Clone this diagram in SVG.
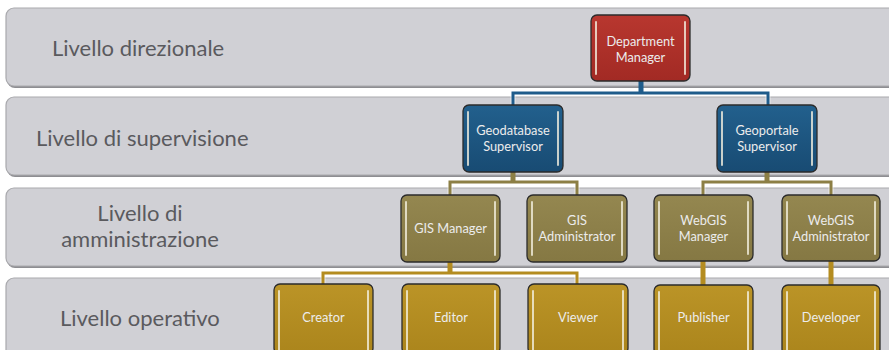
<svg xmlns="http://www.w3.org/2000/svg" width="889" height="350" viewBox="0 0 889 350">
  <defs>
    <linearGradient id="gRed" x1="0" y1="0" x2="0" y2="1">
      <stop offset="0" stop-color="#b8372f"/>
      <stop offset="1" stop-color="#a22a24"/>
    </linearGradient>
    <linearGradient id="gBlue" x1="0" y1="0" x2="0" y2="1">
      <stop offset="0" stop-color="#22608d"/>
      <stop offset="1" stop-color="#184b73"/>
    </linearGradient>
    <linearGradient id="gOlive" x1="0" y1="0" x2="0" y2="1">
      <stop offset="0" stop-color="#948750"/>
      <stop offset="1" stop-color="#857843"/>
    </linearGradient>
    <linearGradient id="gGold" x1="0" y1="0" x2="0" y2="1">
      <stop offset="0" stop-color="#bb9427"/>
      <stop offset="1" stop-color="#ab851c"/>
    </linearGradient>
  </defs>
  <style>
    .band { fill: #d0d0d5; stroke: #a9a9ad; stroke-width: 1.2; }
    .bandShadow { fill: #8e8e92; }
    .lvl { font-family: Lato, "Open Sans", sans-serif; font-size: 22px; fill: #5a5a5e; }
    .node { stroke: #2b2b2b; stroke-width: 1.3; }
    .gloss { stroke: #f4f0e0; stroke-width: 2; stroke-linecap: round; opacity: 0.8; fill: none; }
    .lbl { font-family: Lato, "Open Sans", sans-serif; font-size: 12.8px; fill: #ececec; text-anchor: middle; }
    .halo { fill: none; stroke: #ffffff; stroke-width: 5; opacity: 0.55; }
    .cBlue { fill: none; stroke: #1f5c8b; stroke-width: 3; }
    .cOlive { fill: none; stroke: #8c7f45; stroke-width: 3; }
    .cGold { fill: none; stroke: #b48c20; stroke-width: 3; }
    .stub { stroke-width: 5; }
  </style>

  <rect width="889" height="350" fill="#ffffff"/>

  <!-- level bands -->
  <g id="bands">
    <rect class="bandShadow" x="7" y="11" width="900" height="77" rx="8"/>
    <rect class="band" x="6" y="8" width="900" height="78" rx="8"/>
    <rect class="bandShadow" x="7" y="100" width="900" height="77" rx="8"/>
    <rect class="band" x="6" y="97" width="900" height="78" rx="8"/>
    <rect class="bandShadow" x="7" y="191" width="900" height="77" rx="8"/>
    <rect class="band" x="6" y="188" width="900" height="78" rx="8"/>
    <rect class="band" x="6" y="278" width="900" height="90" rx="8"/>
  </g>

  <g id="levels">
    <text class="lvl" x="52" y="56">Livello direzionale</text>
    <text class="lvl" x="36" y="146">Livello di supervisione</text>
    <text class="lvl" x="140" y="221" text-anchor="middle">Livello di</text>
    <text class="lvl" x="140" y="247" text-anchor="middle">amministrazione</text>
    <text class="lvl" x="60" y="326">Livello operativo</text>
  </g>

  <!-- connectors -->
  <g id="connectors">
    <path class="halo" d="M513,105 V93 H768 V105"/>
    <path class="cBlue" d="M513,105 V93 H768 V105"/>
    <path class="cBlue stub" d="M641,81 V93"/>

    <path class="halo" d="M450,195 V182 H577 V195"/>
    <path class="cOlive" d="M450,195 V182 H577 V195"/>
    <path class="cOlive stub" d="M513,172 V182"/>
    <path class="halo" d="M703,195 V182 H831 V195"/>
    <path class="cOlive" d="M703,195 V182 H831 V195"/>
    <path class="cOlive stub" d="M767,172 V182"/>

    <path class="halo" d="M323,284 V273 H577 V284"/>
    <path class="cGold" d="M323,284 V273 H577 V284"/>
    <path class="cGold stub" d="M450,262 V273"/>
    <path class="cGold stub" d="M703,261 V285"/>
    <path class="cGold stub" d="M831,261 V285"/>
  </g>

  <!-- direction -->
  <g id="department-manager">
    <rect class="node" x="591" y="15" width="99" height="66" rx="6" fill="url(#gRed)"/>
    <path class="gloss" d="M596,22 V74 M685,22 V74"/>
    <text class="lbl" x="640.5" y="46">Department</text>
    <text class="lbl" x="640.5" y="61.5">Manager</text>
  </g>

  <!-- supervision -->
  <g id="geodatabase-supervisor">
    <rect class="node" x="463" y="105" width="100" height="67" rx="6" fill="url(#gBlue)"/>
    <path class="gloss" d="M468,112 V165 M558,112 V165"/>
    <text class="lbl" x="513" y="135">Geodatabase</text>
    <text class="lbl" x="513" y="150.5">Supervisor</text>
  </g>
  <g id="geoportale-supervisor">
    <rect class="node" x="717" y="105" width="100" height="67" rx="6" fill="url(#gBlue)"/>
    <path class="gloss" d="M722,112 V165 M812,112 V165"/>
    <text class="lbl" x="767" y="135">Geoportale</text>
    <text class="lbl" x="767" y="150.5">Supervisor</text>
  </g>

  <!-- administration -->
  <g id="gis-manager">
    <rect class="node" x="401" y="195" width="99" height="67" rx="6" fill="url(#gOlive)"/>
    <path class="gloss" d="M406,202 V255 M495,202 V255"/>
    <text class="lbl" x="450.5" y="233">GIS Manager</text>
  </g>
  <g id="gis-administrator">
    <rect class="node" x="527" y="195" width="100" height="67" rx="6" fill="url(#gOlive)"/>
    <path class="gloss" d="M532,202 V255 M622,202 V255"/>
    <text class="lbl" x="577" y="225">GIS</text>
    <text class="lbl" x="577" y="240.5">Administrator</text>
  </g>
  <g id="webgis-manager">
    <rect class="node" x="654" y="195" width="99" height="66" rx="6" fill="url(#gOlive)"/>
    <path class="gloss" d="M659,202 V254 M748,202 V254"/>
    <text class="lbl" x="703.5" y="225">WebGIS</text>
    <text class="lbl" x="703.5" y="240.5">Manager</text>
  </g>
  <g id="webgis-administrator">
    <rect class="node" x="782" y="195" width="98" height="66" rx="6" fill="url(#gOlive)"/>
    <path class="gloss" d="M787,202 V254 M875,202 V254"/>
    <text class="lbl" x="831" y="225">WebGIS</text>
    <text class="lbl" x="831" y="240.5">Administrator</text>
  </g>

  <!-- operations -->
  <g id="creator">
    <rect class="node" x="274" y="284" width="99" height="70" rx="6" fill="url(#gGold)"/>
    <path class="gloss" d="M279,291 V350 M368,291 V350"/>
    <text class="lbl" x="323.5" y="322">Creator</text>
  </g>
  <g id="editor">
    <rect class="node" x="402" y="284" width="98" height="70" rx="6" fill="url(#gGold)"/>
    <path class="gloss" d="M407,291 V350 M495,291 V350"/>
    <text class="lbl" x="451" y="322">Editor</text>
  </g>
  <g id="viewer">
    <rect class="node" x="528" y="284" width="100" height="70" rx="6" fill="url(#gGold)"/>
    <path class="gloss" d="M533,291 V350 M623,291 V350"/>
    <text class="lbl" x="578" y="322">Viewer</text>
  </g>
  <g id="publisher">
    <rect class="node" x="654" y="285" width="99" height="70" rx="6" fill="url(#gGold)"/>
    <path class="gloss" d="M659,292 V350 M748,292 V350"/>
    <text class="lbl" x="703.5" y="322">Publisher</text>
  </g>
  <g id="developer">
    <rect class="node" x="782" y="285" width="98" height="70" rx="6" fill="url(#gGold)"/>
    <path class="gloss" d="M787,292 V350 M875,292 V350"/>
    <text class="lbl" x="831" y="322">Developer</text>
  </g>
</svg>
